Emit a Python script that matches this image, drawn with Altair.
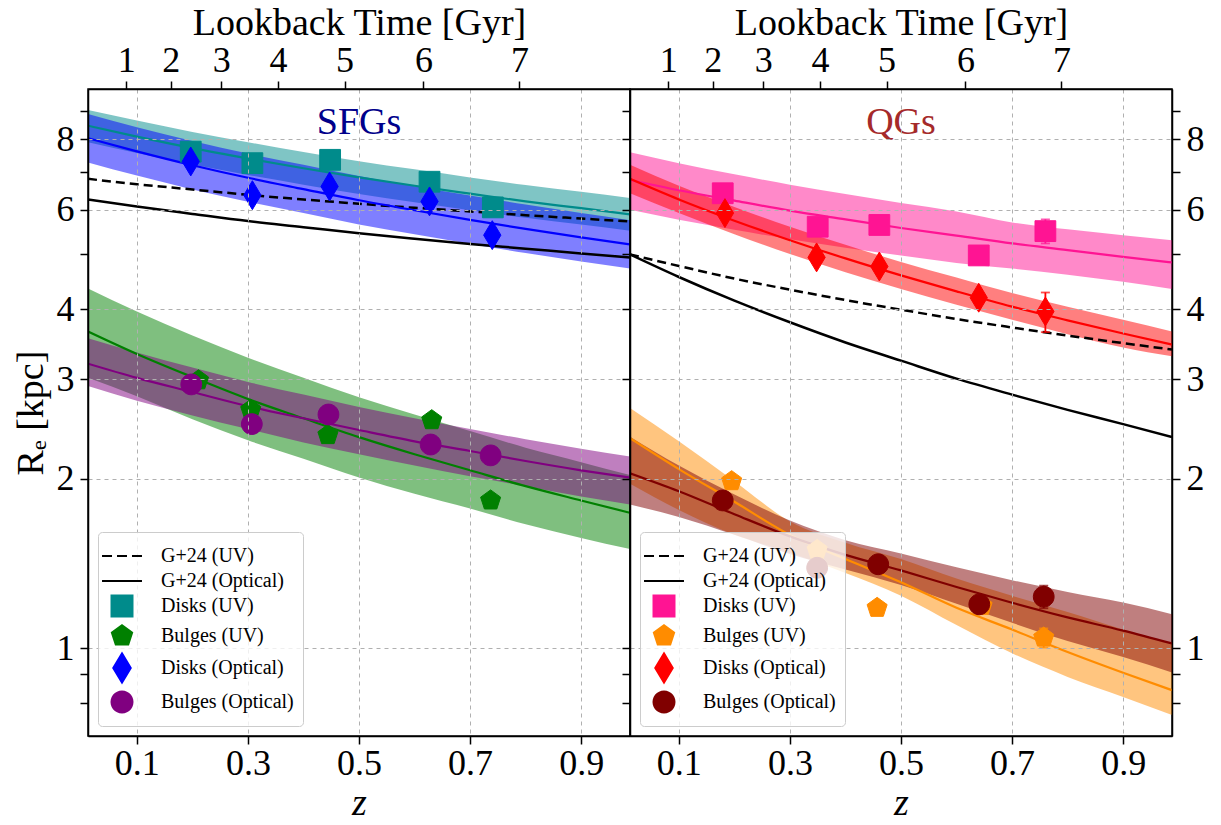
import math
import altair as alt
import pandas as pd

FONT = "Liberation Serif"

# ---------------- shared axes / ticks ----------------
Z_GRID = [0.012, 0.1, 0.2, 0.3, 0.4, 0.5, 0.6, 0.7, 0.8, 0.9, 0.988]
Z_DOMAIN = [0.012, 0.988]
R_DOMAIN = [0.699, 9.83]
X_TICKS = [0.1, 0.3, 0.5, 0.7, 0.9]
Y_TICKS = [0.8, 0.9, 1, 2, 3, 4, 5, 6, 7, 8, 9]
Y_LABELED = [1, 2, 3, 4, 6, 8]
LOOKBACK_LABELS = ["1", "2", "3", "4", "5", "6", "7"]
LOOKBACK_Z = [0.081, 0.161, 0.252, 0.354, 0.474, 0.616, 0.789]
LEGEND_LABELS = ["G+24 (UV)", "G+24 (Optical)", "Disks (UV)", "Bulges (UV)",
                 "Disks (Optical)", "Bulges (Optical)"]
SERIES = ["Disks (UV)", "Bulges (UV)", "Disks (Optical)", "Bulges (Optical)"]

# ---------------- SFGs (left panel) ----------------
sfg_g24_uv = [6.81, 6.66, 6.52, 6.38, 6.26, 6.15, 6.05, 5.96, 5.87, 5.79, 5.72]
sfg_g24_opt = [6.26, 6.08, 5.90, 5.73, 5.59, 5.45, 5.33, 5.22, 5.12, 5.02, 4.94]
sfg_disk_uv_fit = [8.46, 8.09, 7.72, 7.40, 7.11, 6.85, 6.62, 6.41, 6.21, 6.04, 5.89]
sfg_disk_uv_hi = [9.02, 8.64, 8.25, 7.91, 7.60, 7.32, 7.08, 6.85, 6.64, 6.46, 6.30]
sfg_disk_uv_lo = [7.91, 7.57, 7.22, 6.92, 6.65, 6.40, 6.19, 5.99, 5.81, 5.65, 5.51]
sfg_disk_opt_fit = [8.04, 7.62, 7.20, 6.84, 6.53, 6.24, 5.99, 5.76, 5.55, 5.36, 5.21]
sfg_disk_opt_hi = [8.88, 8.41, 7.95, 7.55, 7.21, 6.89, 6.61, 6.36, 6.13, 5.92, 5.75]
sfg_disk_opt_lo = [7.28, 6.90, 6.52, 6.20, 5.92, 5.65, 5.43, 5.22, 5.03, 4.86, 4.72]
sfg_bulge_uv_fit = [3.65, 3.33, 3.03, 2.77, 2.56, 2.37, 2.21, 2.07, 1.94, 1.83, 1.74]
sfg_bulge_uv_hi = [4.35, 3.96, 3.59, 3.28, 3.02, 2.79, 2.60, 2.43, 2.27, 2.14, 2.03]
sfg_bulge_uv_lo = [3.02, 2.80, 2.55, 2.34, 2.17, 2.01, 1.88, 1.77, 1.66, 1.57, 1.50]
sfg_bulge_opt_fit = [3.20, 3.02, 2.85, 2.69, 2.56, 2.44, 2.33, 2.24, 2.15, 2.07, 2.01]
sfg_bulge_opt_hi = [3.55, 3.35, 3.15, 2.97, 2.82, 2.68, 2.56, 2.45, 2.35, 2.26, 2.19]
sfg_bulge_opt_lo = [2.92, 2.75, 2.59, 2.45, 2.32, 2.21, 2.11, 2.02, 1.94, 1.86, 1.80]

sfg_disk_uv_z = [0.197, 0.308, 0.448, 0.627, 0.741]
sfg_disk_uv_r = [7.61, 7.26, 7.36, 6.73, 6.06]
sfg_bulge_uv_z = [0.211, 0.305, 0.444, 0.631, 0.737]
sfg_bulge_uv_r = [2.99, 2.65, 2.39, 2.54, 1.83]
sfg_disk_opt_z = [0.197, 0.308, 0.447, 0.627, 0.740]
sfg_disk_opt_r = [7.31, 6.37, 6.60, 6.21, 5.41]
sfg_bulge_opt_z = [0.198, 0.307, 0.445, 0.629, 0.737]
sfg_bulge_opt_r = [2.94, 2.50, 2.60, 2.30, 2.20]

# ---------------- QGs (right panel) ----------------
qg_g24_uv = [5.00, 4.77, 4.53, 4.33, 4.15, 3.99, 3.84, 3.71, 3.59, 3.48, 3.39]
qg_g24_opt = [5.00, 4.56, 4.14, 3.79, 3.49, 3.24, 3.01, 2.82, 2.65, 2.50, 2.37]
qg_disk_uv_fit = [6.78, 6.50, 6.23, 5.98, 5.77, 5.57, 5.40, 5.23, 5.09, 4.95, 4.84]
qg_disk_uv_hi = [7.59, 7.26, 6.94, 6.65, 6.40, 6.17, 5.96, 5.70, 5.54, 5.41, 5.30]
qg_disk_uv_lo = [6.00, 5.76, 5.53, 5.32, 5.14, 4.98, 4.83, 4.72, 4.60, 4.47, 4.34]
qg_disk_opt_fit = [6.81, 6.26, 5.74, 5.30, 4.92, 4.59, 4.30, 4.04, 3.82, 3.62, 3.46]
qg_disk_opt_hi = [7.21, 6.62, 6.07, 5.60, 5.20, 4.85, 4.55, 4.27, 4.04, 3.83, 3.65]
qg_disk_opt_lo = [6.42, 5.92, 5.43, 5.01, 4.65, 4.34, 4.07, 3.83, 3.61, 3.42, 3.30]
qg_bulge_uv_fit = [2.36, 2.08, 1.82, 1.59, 1.44, 1.31, 1.18, 1.08, 0.985, 0.905, 0.843]
qg_bulge_uv_hi = [2.67, 2.33, 1.98, 1.68, 1.54, 1.44, 1.33, 1.24, 1.16, 1.08, 1.02]
qg_bulge_uv_lo = [1.96, 1.76, 1.59, 1.48, 1.36, 1.24, 1.10, 0.98, 0.89, 0.82, 0.762]
qg_bulge_opt_fit = [2.045, 1.90, 1.73, 1.58, 1.465, 1.375, 1.285, 1.205, 1.135, 1.075, 1.02]
qg_bulge_opt_hi = [2.375, 2.11, 1.875, 1.686, 1.556, 1.474, 1.393, 1.321, 1.259, 1.206, 1.15]
qg_bulge_opt_lo = [1.80, 1.71, 1.59, 1.47, 1.38, 1.295, 1.20, 1.11, 1.03, 0.965, 0.906]

qg_disk_uv_z = [0.179, 0.350, 0.461, 0.640, 0.760]
qg_disk_uv_r = [6.42, 5.60, 5.64, 4.98, 5.50]
qg_bulge_uv_z = [0.195, 0.349, 0.457, 0.646, 0.757]
qg_bulge_uv_r = [1.98, 1.495, 1.18, 1.19, 1.045]
qg_disk_opt_z = [0.183, 0.348, 0.461, 0.640, 0.760]
qg_disk_opt_r = [5.92, 4.94, 4.76, 4.19, 3.96]
qg_bulge_opt_z = [0.179, 0.349, 0.459, 0.641, 0.757]
qg_bulge_opt_r = [1.83, 1.39, 1.41, 1.197, 1.235]

# error bars visible in the QG panel (last redshift bin)
qg_err_series = ["Disks (UV)", "Bulges (UV)", "Disks (Optical)", "Bulges (Optical)"]
qg_err_z = [0.760, 0.757, 0.760, 0.757]
qg_err_lo = [5.23, 1.003, 3.64, 1.178]
qg_err_hi = [5.77, 1.085, 4.28, 1.292]

# ---------------- colours ----------------
SFG_COLORS = {"Disks (UV)": "#008B8B", "Bulges (UV)": "#008000",
              "Disks (Optical)": "#0000FF", "Bulges (Optical)": "#800080"}
QG_COLORS = {"Disks (UV)": "#FF1493", "Bulges (UV)": "#FF8C00",
             "Disks (Optical)": "#FF0000", "Bulges (Optical)": "#800000"}

# ---------------- marker shapes (unit = 13.5 px at size 729) ----------------
MARK_SIZE = 729
def _poly(pts):
    return "M" + "L".join(f"{x:.3f},{y:.3f}" for x, y in pts) + "Z"
_pent = [(0.78 * math.sin(2 * math.pi * k / 5), -0.78 * math.cos(2 * math.pi * k / 5)) for k in range(5)]
_circ = [(0.77 * math.cos(2 * math.pi * k / 28), 0.77 * math.sin(2 * math.pi * k / 28)) for k in range(28)]
SHAPES = [
    "M-1.48,0H-0.74M-0.37,0H0.37M0.74,0H1.48",  # dashed line
    "M-1.48,0H1.48",                             # solid line
    "M-0.77,-0.77H0.77V0.77H-0.77Z",             # square
    _poly(_pent),                                # pentagon
    "M0,-1.07L0.64,0L0,1.07L-0.64,0Z",           # thin diamond
    _poly(_circ),                                # circle
]

W, H = 542, 647
GRID_COND = {"condition": {"test": f"indexof({Y_LABELED}, datum.value) >= 0", "value": 1}, "value": 0}
Y_LABEL_EXPR = f"indexof({Y_LABELED}, datum.value) >= 0 ? '' + datum.value : ''"
_mids = [(LOOKBACK_Z[i] + LOOKBACK_Z[i + 1]) / 2 for i in range(len(LOOKBACK_Z) - 1)]
TOP_LABEL_EXPR = "".join(f"datum.value < {m:.4f} ? '{LOOKBACK_LABELS[i]}' : " for i, m in enumerate(_mids)) + f"'{LOOKBACK_LABELS[-1]}'"


def panel(name, name_color, colors, bands, fits, g24_uv, g24_opt, points, errs, right_labels):
    xs = alt.Scale(domain=Z_DOMAIN, nice=False, zero=False)
    ys = alt.Scale(type="log", domain=R_DOMAIN, nice=False)
    x_axis = alt.Axis(orient="bottom", values=X_TICKS, format=".1f", title="z",
                      titleFontStyle="italic", grid=True, gridColor="#b0b0b0",
                      gridDash=[4, 4], gridWidth=1, labelPadding=2, titlePadding=3,
                      labelFlush=False, zindex=1)
    if right_labels:
        y_axis = alt.Axis(orient="left", values=Y_TICKS, labels=False, title=None,
                          grid=True, gridOpacity=GRID_COND, gridColor="#b0b0b0",
                          gridDash=[4, 4], gridWidth=1, zindex=1, labelOverlap=False)
    else:
        y_axis = alt.Axis(orient="left", values=Y_TICKS, labelExpr=Y_LABEL_EXPR,
                          title="Rₑ [kpc]", grid=True, gridOpacity=GRID_COND,
                          gridColor="#b0b0b0", gridDash=[4, 4], gridWidth=1,
                          labelPadding=6, titlePadding=6, zindex=1,
                          labelOverlap=False, labelFlush=False)
    X = alt.X("z:Q", scale=xs, axis=x_axis)

    layers = []
    for key, lo, hi in bands:
        df = pd.DataFrame({"z": Z_GRID, "lo": lo, "hi": hi})
        layers.append(alt.Chart(df).mark_area(color=colors[key], opacity=0.5, clip=True,
                                              interpolate="monotone").encode(
            x=X, y=alt.Y("lo:Q", scale=ys, axis=y_axis), y2="hi:Q"))
    g_uv = pd.DataFrame({"z": Z_GRID, "R": g24_uv})
    g_opt = pd.DataFrame({"z": Z_GRID, "R": g24_opt})
    layers.append(alt.Chart(g_uv).mark_line(color="black", strokeWidth=2.5, strokeDash=[9, 5],
                                            interpolate="monotone", clip=True).encode(
        x=X, y=alt.Y("R:Q", scale=ys, axis=y_axis)))
    layers.append(alt.Chart(g_opt).mark_line(color="black", strokeWidth=2.5,
                                             interpolate="monotone", clip=True).encode(
        x=X, y=alt.Y("R:Q", scale=ys, axis=y_axis)))
    for key, vals in fits:
        df = pd.DataFrame({"z": Z_GRID, "R": vals})
        layers.append(alt.Chart(df).mark_line(color=colors[key], strokeWidth=2.2,
                                              interpolate="monotone", clip=True).encode(
            x=X, y=alt.Y("R:Q", scale=ys, axis=y_axis)))
    if errs is not None:
        es, ez, elo, ehi = errs
        for s, z, lo, hi in zip(es, ez, elo, ehi):
            df = pd.DataFrame({"z": [z], "lo": [lo], "hi": [hi]})
            layers.append(alt.Chart(df).mark_rule(color=colors[s], strokeWidth=1.8).encode(
                x=X, y=alt.Y("lo:Q", scale=ys, axis=y_axis), y2="hi:Q"))
            for f in ("lo", "hi"):
                layers.append(alt.Chart(df).mark_tick(color=colors[s], orient="horizontal",
                                                      size=9, thickness=1.8).encode(
                    x=X, y=alt.Y(f"{f}:Q", scale=ys, axis=y_axis)))

    rows = []
    for key, zs, rs in points:
        for z, r in zip(zs, rs):
            rows.append({"z": z, "R": r, "label": key})
    pts = pd.DataFrame(rows)
    crange = ["black", "black"] + [colors[s] for s in SERIES]
    leg = alt.Legend(title=None, orient="bottom-left", offset=10, padding=9,
                     fillColor="rgba(255,255,255,0.8)", strokeColor="#cccccc",
                     cornerRadius=4, labelFont=FONT, labelFontSize=20, labelColor="black",
                     labelOffset=24, symbolStrokeWidth=2.2, symbolSize=MARK_SIZE,
                     rowPadding=0, zindex=2, labelLimit=400)
    layers.append(alt.Chart(pts).mark_point(filled=True, size=MARK_SIZE, strokeWidth=1,
                                            opacity=1).encode(
        x=X, y=alt.Y("R:Q", scale=ys, axis=y_axis),
        fill=alt.Fill("label:N", scale=alt.Scale(domain=LEGEND_LABELS, range=crange), legend=leg),
        stroke=alt.Stroke("label:N", scale=alt.Scale(domain=LEGEND_LABELS, range=crange), legend=leg),
        shape=alt.Shape("label:N", scale=alt.Scale(domain=LEGEND_LABELS, range=SHAPES), legend=leg)))
    layers.append(alt.Chart(pd.DataFrame({"t": [name]})).mark_text(
        font=FONT, fontSize=38, color=name_color, baseline="middle", align="center").encode(
        text="t:N", x=alt.value(W / 2), y=alt.value(34)))

    inner = alt.layer(*layers)

    top_axis = alt.Axis(orient="top", values=LOOKBACK_Z, labelExpr=TOP_LABEL_EXPR,
                        title="Lookback Time [Gyr]", grid=False, labelPadding=2,
                        titlePadding=0, labelFlush=False, zindex=1)
    if right_labels:
        aux_y = alt.Y("R:Q", scale=ys, axis=alt.Axis(orient="right", values=Y_TICKS,
                                                     labelExpr=Y_LABEL_EXPR, title=None,
                                                     grid=False, labelPadding=6, zindex=1,
                                                     labelOverlap=False, labelFlush=False))
    else:
        aux_y = alt.Y("R:Q", scale=ys, axis=None)
    aux = alt.Chart(g_uv).mark_line(opacity=0).encode(
        x=alt.X("z:Q", scale=xs, axis=top_axis), y=aux_y)

    return alt.layer(inner, aux).resolve_scale(x="independent", y="independent").properties(
        width=W, height=H)


left = panel(
    "SFGs", "#00008B", SFG_COLORS,
    bands=[("Disks (UV)", sfg_disk_uv_lo, sfg_disk_uv_hi),
           ("Disks (Optical)", sfg_disk_opt_lo, sfg_disk_opt_hi),
           ("Bulges (UV)", sfg_bulge_uv_lo, sfg_bulge_uv_hi),
           ("Bulges (Optical)", sfg_bulge_opt_lo, sfg_bulge_opt_hi)],
    fits=[("Disks (UV)", sfg_disk_uv_fit), ("Disks (Optical)", sfg_disk_opt_fit),
          ("Bulges (UV)", sfg_bulge_uv_fit), ("Bulges (Optical)", sfg_bulge_opt_fit)],
    g24_uv=sfg_g24_uv, g24_opt=sfg_g24_opt,
    points=[("Disks (UV)", sfg_disk_uv_z, sfg_disk_uv_r),
            ("Bulges (UV)", sfg_bulge_uv_z, sfg_bulge_uv_r),
            ("Disks (Optical)", sfg_disk_opt_z, sfg_disk_opt_r),
            ("Bulges (Optical)", sfg_bulge_opt_z, sfg_bulge_opt_r)],
    errs=None, right_labels=False)

right = panel(
    "QGs", "#A52A2A", QG_COLORS,
    bands=[("Disks (UV)", qg_disk_uv_lo, qg_disk_uv_hi),
           ("Disks (Optical)", qg_disk_opt_lo, qg_disk_opt_hi),
           ("Bulges (UV)", qg_bulge_uv_lo, qg_bulge_uv_hi),
           ("Bulges (Optical)", qg_bulge_opt_lo, qg_bulge_opt_hi)],
    fits=[("Disks (UV)", qg_disk_uv_fit), ("Disks (Optical)", qg_disk_opt_fit),
          ("Bulges (UV)", qg_bulge_uv_fit), ("Bulges (Optical)", qg_bulge_opt_fit)],
    g24_uv=qg_g24_uv, g24_opt=qg_g24_opt,
    points=[("Disks (UV)", qg_disk_uv_z, qg_disk_uv_r),
            ("Bulges (UV)", qg_bulge_uv_z, qg_bulge_uv_r),
            ("Disks (Optical)", qg_disk_opt_z, qg_disk_opt_r),
            ("Bulges (Optical)", qg_bulge_opt_z, qg_bulge_opt_r)],
    errs=(qg_err_series, qg_err_z, qg_err_lo, qg_err_hi), right_labels=True)

chart = alt.hconcat(left, right, spacing=0, bounds="flush").resolve_scale(
    fill="independent", stroke="independent", shape="independent"
).resolve_legend(
    fill="independent", stroke="independent", shape="independent"
).properties(
    padding={"left": 11, "top": 3, "right": 10, "bottom": 0}
).configure(font=FONT).configure_view(
    stroke="black", strokeWidth=1.5
).configure_axis(
    labelFont=FONT, titleFont=FONT, labelFontSize=36, titleFontSize=38,
    titleFontWeight="normal", labelColor="black", titleColor="black",
    tickColor="black", domainColor="black", tickWidth=1.5, domainWidth=1.5, tickSize=8
)

chart.save("out.html", embed_options={"renderer": "svg", "actions": False})
